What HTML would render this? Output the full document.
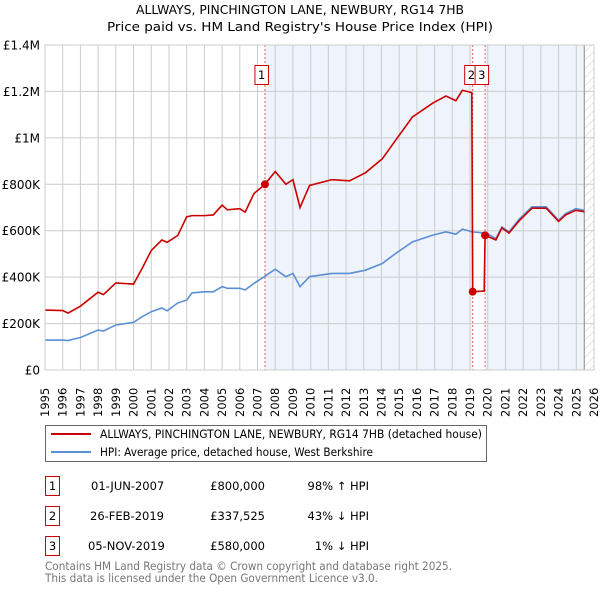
<!DOCTYPE html>
<html><head><meta charset="utf-8"><style>
body{margin:0;background:#fff;font-family:"Liberation Sans","DejaVu Sans",sans-serif;}
</style></head><body>
<svg id="c" width="600" height="590" xmlns="http://www.w3.org/2000/svg" font-family="DejaVu Sans, Liberation Sans, sans-serif">
<defs><pattern id="hatch" width="6" height="6" patternUnits="userSpaceOnUse" patternTransform="rotate(45)"><line x1="0" y1="0" x2="0" y2="6" stroke="#ccc" stroke-width="1"/></pattern></defs>
<text x="136" y="14" font-size="12.5" fill="#000" textLength="328" lengthAdjust="spacingAndGlyphs">ALLWAYS, PINCHINGTON LANE, NEWBURY, RG14 7HB</text>
<text x="107" y="31" font-size="12.5" fill="#000" textLength="386" lengthAdjust="spacingAndGlyphs">Price paid vs. HM Land Registry's House Price Index (HPI)</text>
<g id="plot"></g>
<g>
<rect x="45.5" y="425.5" width="441" height="36" fill="#fff" stroke="#666"/>
<line x1="51" y1="434" x2="91" y2="434" stroke="#cc0000" stroke-width="2"/>
<text x="100" y="438" font-size="11.5" textLength="382" lengthAdjust="spacingAndGlyphs">ALLWAYS, PINCHINGTON LANE, NEWBURY, RG14 7HB (detached house)</text>
<line x1="51" y1="452" x2="91" y2="452" stroke="#5b8fd4" stroke-width="2"/>
<text x="100" y="456" font-size="11.5" textLength="273" lengthAdjust="spacingAndGlyphs">HPI: Average price, detached house, West Berkshire</text>
</g>
<g font-size="11.5">
<rect x="45.5" y="476.5" width="14" height="19" fill="#fff" stroke="#cc0000"/><text x="52.5" y="490" text-anchor="middle">1</text>
<text x="91" y="490">01-JUN-2007</text><text x="265" y="490" text-anchor="end">£800,000</text><text x="369" y="490" text-anchor="end">98% ↑ HPI</text>
<rect x="45.5" y="506.5" width="14" height="19" fill="#fff" stroke="#cc0000"/><text x="52.5" y="520" text-anchor="middle">2</text>
<text x="90" y="520">26-FEB-2019</text><text x="265" y="520" text-anchor="end">£337,525</text><text x="369" y="520" text-anchor="end">43% ↓ HPI</text>
<rect x="45.5" y="536.5" width="14" height="19" fill="#fff" stroke="#cc0000"/><text x="52.5" y="550" text-anchor="middle">3</text>
<text x="88" y="550">05-NOV-2019</text><text x="265" y="550" text-anchor="end">£580,000</text><text x="369" y="550" text-anchor="end">1% ↓ HPI</text>
</g>
<text x="45" y="570" font-size="11.5" fill="#777" textLength="407" lengthAdjust="spacingAndGlyphs">Contains HM Land Registry data © Crown copyright and database right 2025.</text>
<text x="45" y="582" font-size="11.5" fill="#777" textLength="333" lengthAdjust="spacingAndGlyphs">This data is licensed under the Open Government Licence v3.0.</text>
</svg>
<script>
const hpiDates=[1995,1996,1996.3,1997,1998,1998.3,1999,2000,2000.5,2001,2001.6,2001.9,2002.5,2003,2003.3,2004,2004.5,2005,2005.3,2006,2006.3,2006.8,2007.42,2008,2008.6,2009,2009.4,2009.94,2011.2,2012.2,2013.1,2014.05,2014.8,2015.75,2016.9,2017.64,2018.2,2018.57,2019.13,2019.9,2020.46,2020.8,2021.2,2021.8,2022.5,2023.3,2024,2024.4,2024.97,2025.45];
const hpiValues=[129,129,127,140,172,168,194,205,230,251,267,255,289,301,332,337,337,359,352,352,345,373,404,434,402,416,359,402,416,416,430,459,502,552,581,595,585,607,595,590,566,616,595,652,703,703,645,674,695,688];
const redDates=[1995,1996,1996.3,1997,1998,1998.3,1999,2000,2000.5,2001,2001.6,2001.9,2002.5,2003,2003.3,2004,2004.5,2005,2005.3,2006,2006.3,2006.8,2007.42,2008,2008.6,2009,2009.4,2009.94,2011.2,2012.2,2013.1,2014.05,2014.8,2015.75,2016.9,2017.64,2018.2,2018.57,2019.1,2019.15,2019.8,2019.85,2020.46,2020.8,2021.2,2021.8,2022.5,2023.3,2024,2024.4,2024.97,2025.45];
const redValues=[258,256,245,275,335,325,375,370,440,515,560,550,580,660,665,665,668,710,690,695,680,760,800,855,800,820,700,795,820,815,850,910,990,1090,1150,1180,1160,1205,1195,337.5,340,580,560,612,590,645,697,697,640,668,688,682];
const saleDates=[2007.42,2019.15,2019.85];
const saleValues=[800,337.5,580];
const saleLabels=["1","2","3"];
const yTicks=[0,200,400,600,800,1000,1200,1400];
const yTickLabels=["£0","£200K","£400K","£600K","£800K","£1M","£1.2M","£1.4M"];
const xTicks=[1995,1996,1997,1998,1999,2000,2001,2002,2003,2004,2005,2006,2007,2008,2009,2010,2011,2012,2013,2014,2015,2016,2017,2018,2019,2020,2021,2022,2023,2024,2025,2026];

const X0=45,X1=594,Y0=370,Y1=45;
const xs=y=>X0+(y-1995)/(2026-1995)*(X1-X0);
const ys=v=>Y0-v/1400*(Y0-Y1);
const NS="http://www.w3.org/2000/svg";
const g=document.getElementById('plot');
function mk(t,a){const e=document.createElementNS(NS,t);for(const k in a)e.setAttribute(k,a[k]);g.appendChild(e);return e;}
let r;
r=mk('rect',{x:xs(saleDates[0]),y:Y1,width:xs(saleDates[1])-xs(saleDates[0]),height:Y0-Y1,fill:'#eef3fc'});


r=mk('rect',{x:xs(saleDates[2]),y:Y1,width:xs(2025.45)-xs(saleDates[2]),height:Y0-Y1,fill:'#eef3fc'});


r=mk('rect',{x:xs(2025.45),y:Y1,width:X1-xs(2025.45),height:Y0-Y1,fill:'url(#hatch)'});


xTicks.forEach(t=>{const l=mk('line',{x1:xs(t),x2:xs(t),y1:Y1,y2:Y0,stroke:'#ccc'});


const tx=mk('text',{x:0,y:0,transform:`translate(${xs(t)+4},${Y0+47}) rotate(-90)`,'font-size':'11.5'});tx.textContent=t;

});
yTicks.forEach((t,i)=>{const l=mk('line',{x1:X0,x2:X1,y1:ys(t),y2:ys(t),stroke:'#ccc'});


const tx=mk('text',{x:40,y:ys(t)+4.5,'text-anchor':'end','font-size':'12'});tx.textContent=yTickLabels[i];

});
r=mk('line',{x1:xs(2025.45),x2:xs(2025.45),y1:Y1,y2:Y0,stroke:'#888'});


saleDates.forEach(d=>{const l=mk('line',{x1:xs(d),x2:xs(d),y1:Y1,y2:Y0,stroke:'#e06060','stroke-dasharray':'2,2'});

});
let p=mk('polyline',{points:hpiDates.map((d,i)=>xs(d)+','+ys(hpiValues[i])).join(' '),fill:'none',stroke:'#5b8fd4','stroke-width':1.6});


p=mk('polyline',{points:redDates.map((d,i)=>xs(d)+','+ys(redValues[i])).join(' '),fill:'none',stroke:'#cc0000','stroke-width':1.6});


saleDates.forEach((d,i)=>{const c=mk('circle',{cx:xs(d),cy:ys(saleValues[i]),r:4,fill:'#cc0000'});

});
const bx=[xs(saleDates[0])-10,xs(saleDates[1])-8,xs(saleDates[2])-10];
saleLabels.forEach((s,i)=>{const b=mk('rect',{x:bx[i],y:65.5,width:13.5,height:19,fill:'#fff',stroke:'#cc0000'});


const t=mk('text',{x:bx[i]+6.75,y:79,'text-anchor':'middle','font-size':'11.5'});t.textContent=s;

});
r=mk('rect',{x:X0,y:Y1,width:X1-X0,height:Y0-Y1,fill:'none',stroke:'#ccc'});


</script>
</body></html>
